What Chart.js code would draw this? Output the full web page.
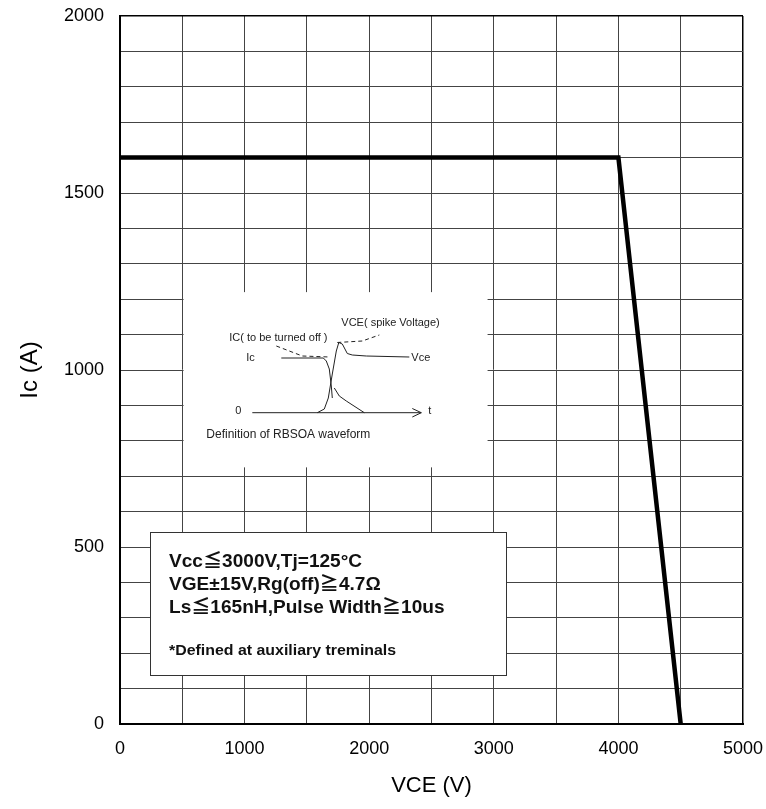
<!DOCTYPE html>
<html>
<head>
<meta charset="utf-8">
<script src="https://cdn.jsdelivr.net/npm/chart.js@4/dist/chart.umd.min.js"></script>
<style>
  html, body { margin: 0; padding: 0; background: #fff; }
  #wrap { width: 766px; height: 809px; }
</style>
</head>
<body>
<div id="wrap"><canvas id="myChart" width="766" height="809"></canvas></div>
<script>
// RBSOA limit curve
var vce = [0, 4000, 4500];
var ic = [1600, 1600, 0];

var xTicks = [0, 1000, 2000, 3000, 4000, 5000];
var yTicks = [0, 500, 1000, 1500, 2000];

var boxLines = [
  'Vcc\u22663000V,Tj=125\u00b0C',
  'VGE\u00b115V,Rg(off)\u22674.7\u03a9',
  'Ls\u2266165nH,Pulse Width\u226710us'
];
var boxNote = '*Defined at auxiliary treminals';

var FONT = '"Liberation Sans", Arial, "Noto Sans CJK JP", sans-serif';

// little waveform sketch, offsets in px from the (500, 1000) grid corner
var sketch = {
  current: [[99, -12], [141, -12], [144, -9], [147, -1], [149, 16], [150, 28]],
  tail: [[152, 18], [157, 26], [164, 31], [182, 42.7]],
  voltage: [[135, 42.7], [142, 39], [146, 28], [150, 4], [154, -19], [156.5, -27.5], [160, -26], [165, -16.5], [170, -15], [184, -14], [227, -13]],
  dashA: [[94, -24], [120, -14], [147, -13]],
  dashB: [[155, -27.5], [180, -29], [197, -35]]
};

var insetPlugin = {
  id: 'insets',
  beforeDatasetsDraw: function(chart) {
    var c = chart.ctx, x = chart.scales.x, y = chart.scales.y;

    // white panel with waveform definition
    var l = x.getPixelForValue(510), r = x.getPixelForValue(2950);
    var t = y.getPixelForValue(1220), b = y.getPixelForValue(725);
    c.save();
    c.fillStyle = '#fff';
    c.fillRect(l, t, r - l, b - t);

    var ox = x.getPixelForValue(500), oy = y.getPixelForValue(1000);
    function path(pts, dash) {
      c.beginPath();
      c.setLineDash(dash || []);
      pts.forEach(function(p, i) {
        if (i === 0) c.moveTo(ox + p[0], oy + p[1]); else c.lineTo(ox + p[0], oy + p[1]);
      });
      c.stroke();
    }
    c.strokeStyle = '#222';
    c.lineWidth = 1;
    path([[70, 42.7], [239, 42.7]]);
    path([[230, 38.5], [239, 42.7], [230, 47]]);
    path(sketch.current);
    path(sketch.tail);
    path(sketch.voltage);
    path(sketch.dashA, [4, 3]);
    path(sketch.dashB, [4, 3]);
    c.setLineDash([]);

    c.fillStyle = '#222';
    c.textBaseline = 'middle';
    c.textAlign = 'left';
    c.font = '11px ' + FONT;
    c.fillText('VCE( spike Voltage)', ox + 159, oy - 47);
    c.fillText('IC( to be turned off )', ox + 47, oy - 32);
    c.fillText('Ic', ox + 64, oy - 12);
    c.fillText('Vce', ox + 229, oy - 12);
    c.fillText('0', ox + 53, oy + 41);
    c.fillText('t', ox + 246, oy + 41);
    c.font = '12px ' + FONT;
    c.fillText('Definition of RBSOA waveform', ox + 24, oy + 65);

    // conditions box
    var bl = x.getPixelForValue(241), br = x.getPixelForValue(3098);
    var bt = y.getPixelForValue(542), bb = y.getPixelForValue(138);
    c.fillStyle = '#fff';
    c.fillRect(bl, bt, br - bl, bb - bt);
    c.strokeStyle = '#333';
    c.strokeRect(Math.round(bl) + 0.5, Math.round(bt) + 0.5, Math.round(br - bl), Math.round(bb - bt));
    c.fillStyle = '#111';
    function wide(s, px, py, font) {
      c.save();
      c.font = font;
      c.translate(px, py);
      c.scale(1.06, 1);
      c.fillText(s, 0, 0);
      c.restore();
    }
    boxLines.forEach(function(s, i) {
      wide(s, bl + 19, bt + 30 + i * 23, 'bold 18px ' + FONT);
    });
    wide(boxNote, bl + 19, bt + 119, 'bold 15px ' + FONT);
    c.restore();
  }
};

var ctx = document.getElementById('myChart').getContext('2d');
var myChart = new Chart(ctx, {
  type: 'scatter',
  data: {
    datasets: [{
      data: vce.map(function(v, i) { return { x: v, y: ic[i] }; }),
      showLine: true,
      borderColor: '#000',
      borderWidth: 4.5,
      pointRadius: 0,
      tension: 0
    }]
  },
  plugins: [insetPlugin],
  options: {
    responsive: false,
    animation: false,
    layout: { padding: { top: 16, right: 23, bottom: 0, left: 0 } },
    plugins: { legend: { display: false }, tooltip: { enabled: false } },
    scales: {
      x: {
        type: 'linear',
        min: 0, max: 5000,
        afterFit: function(s) { s.height = 85; s.paddingLeft = 0; s.paddingRight = 0; },
        ticks: {
          stepSize: 500, autoSkip: false, maxRotation: 0, padding: 14,
          color: '#000', font: { size: 18, family: FONT },
          callback: function(v) { return xTicks.indexOf(v) >= 0 ? v : ''; }
        },
        grid: {
          drawTicks: false,
          color: function(c) { return c.tick && c.tick.value === 5000 ? '#000' : '#444'; },
          lineWidth: function(c) { return c.tick && c.tick.value === 5000 ? 1.5 : 1; }
        },
        border: { color: '#000', width: 2 },
        title: { display: true, text: 'VCE (V)', color: '#000', font: { size: 22, family: FONT }, padding: { top: 0, bottom: 10 } }
      },
      y: {
        min: 0, max: 2000,
        afterFit: function(s) { s.width = 120; s.paddingTop = 0; s.paddingBottom = 0; },
        ticks: {
          stepSize: 100, autoSkip: false, padding: 16,
          color: '#000', font: { size: 18, family: FONT },
          callback: function(v) { return yTicks.indexOf(v) >= 0 ? v : ''; }
        },
        grid: {
          drawTicks: false,
          color: function(c) { return c.tick && c.tick.value === 2000 ? '#000' : '#444'; },
          lineWidth: function(c) { return c.tick && c.tick.value === 2000 ? 1.5 : 1; }
        },
        border: { color: '#000', width: 2 },
        title: { display: true, text: 'Ic (A)', color: '#000', font: { size: 24, family: FONT }, padding: { top: 16, bottom: 0 } }
      }
    }
  }
});
</script>
</body>
</html>
